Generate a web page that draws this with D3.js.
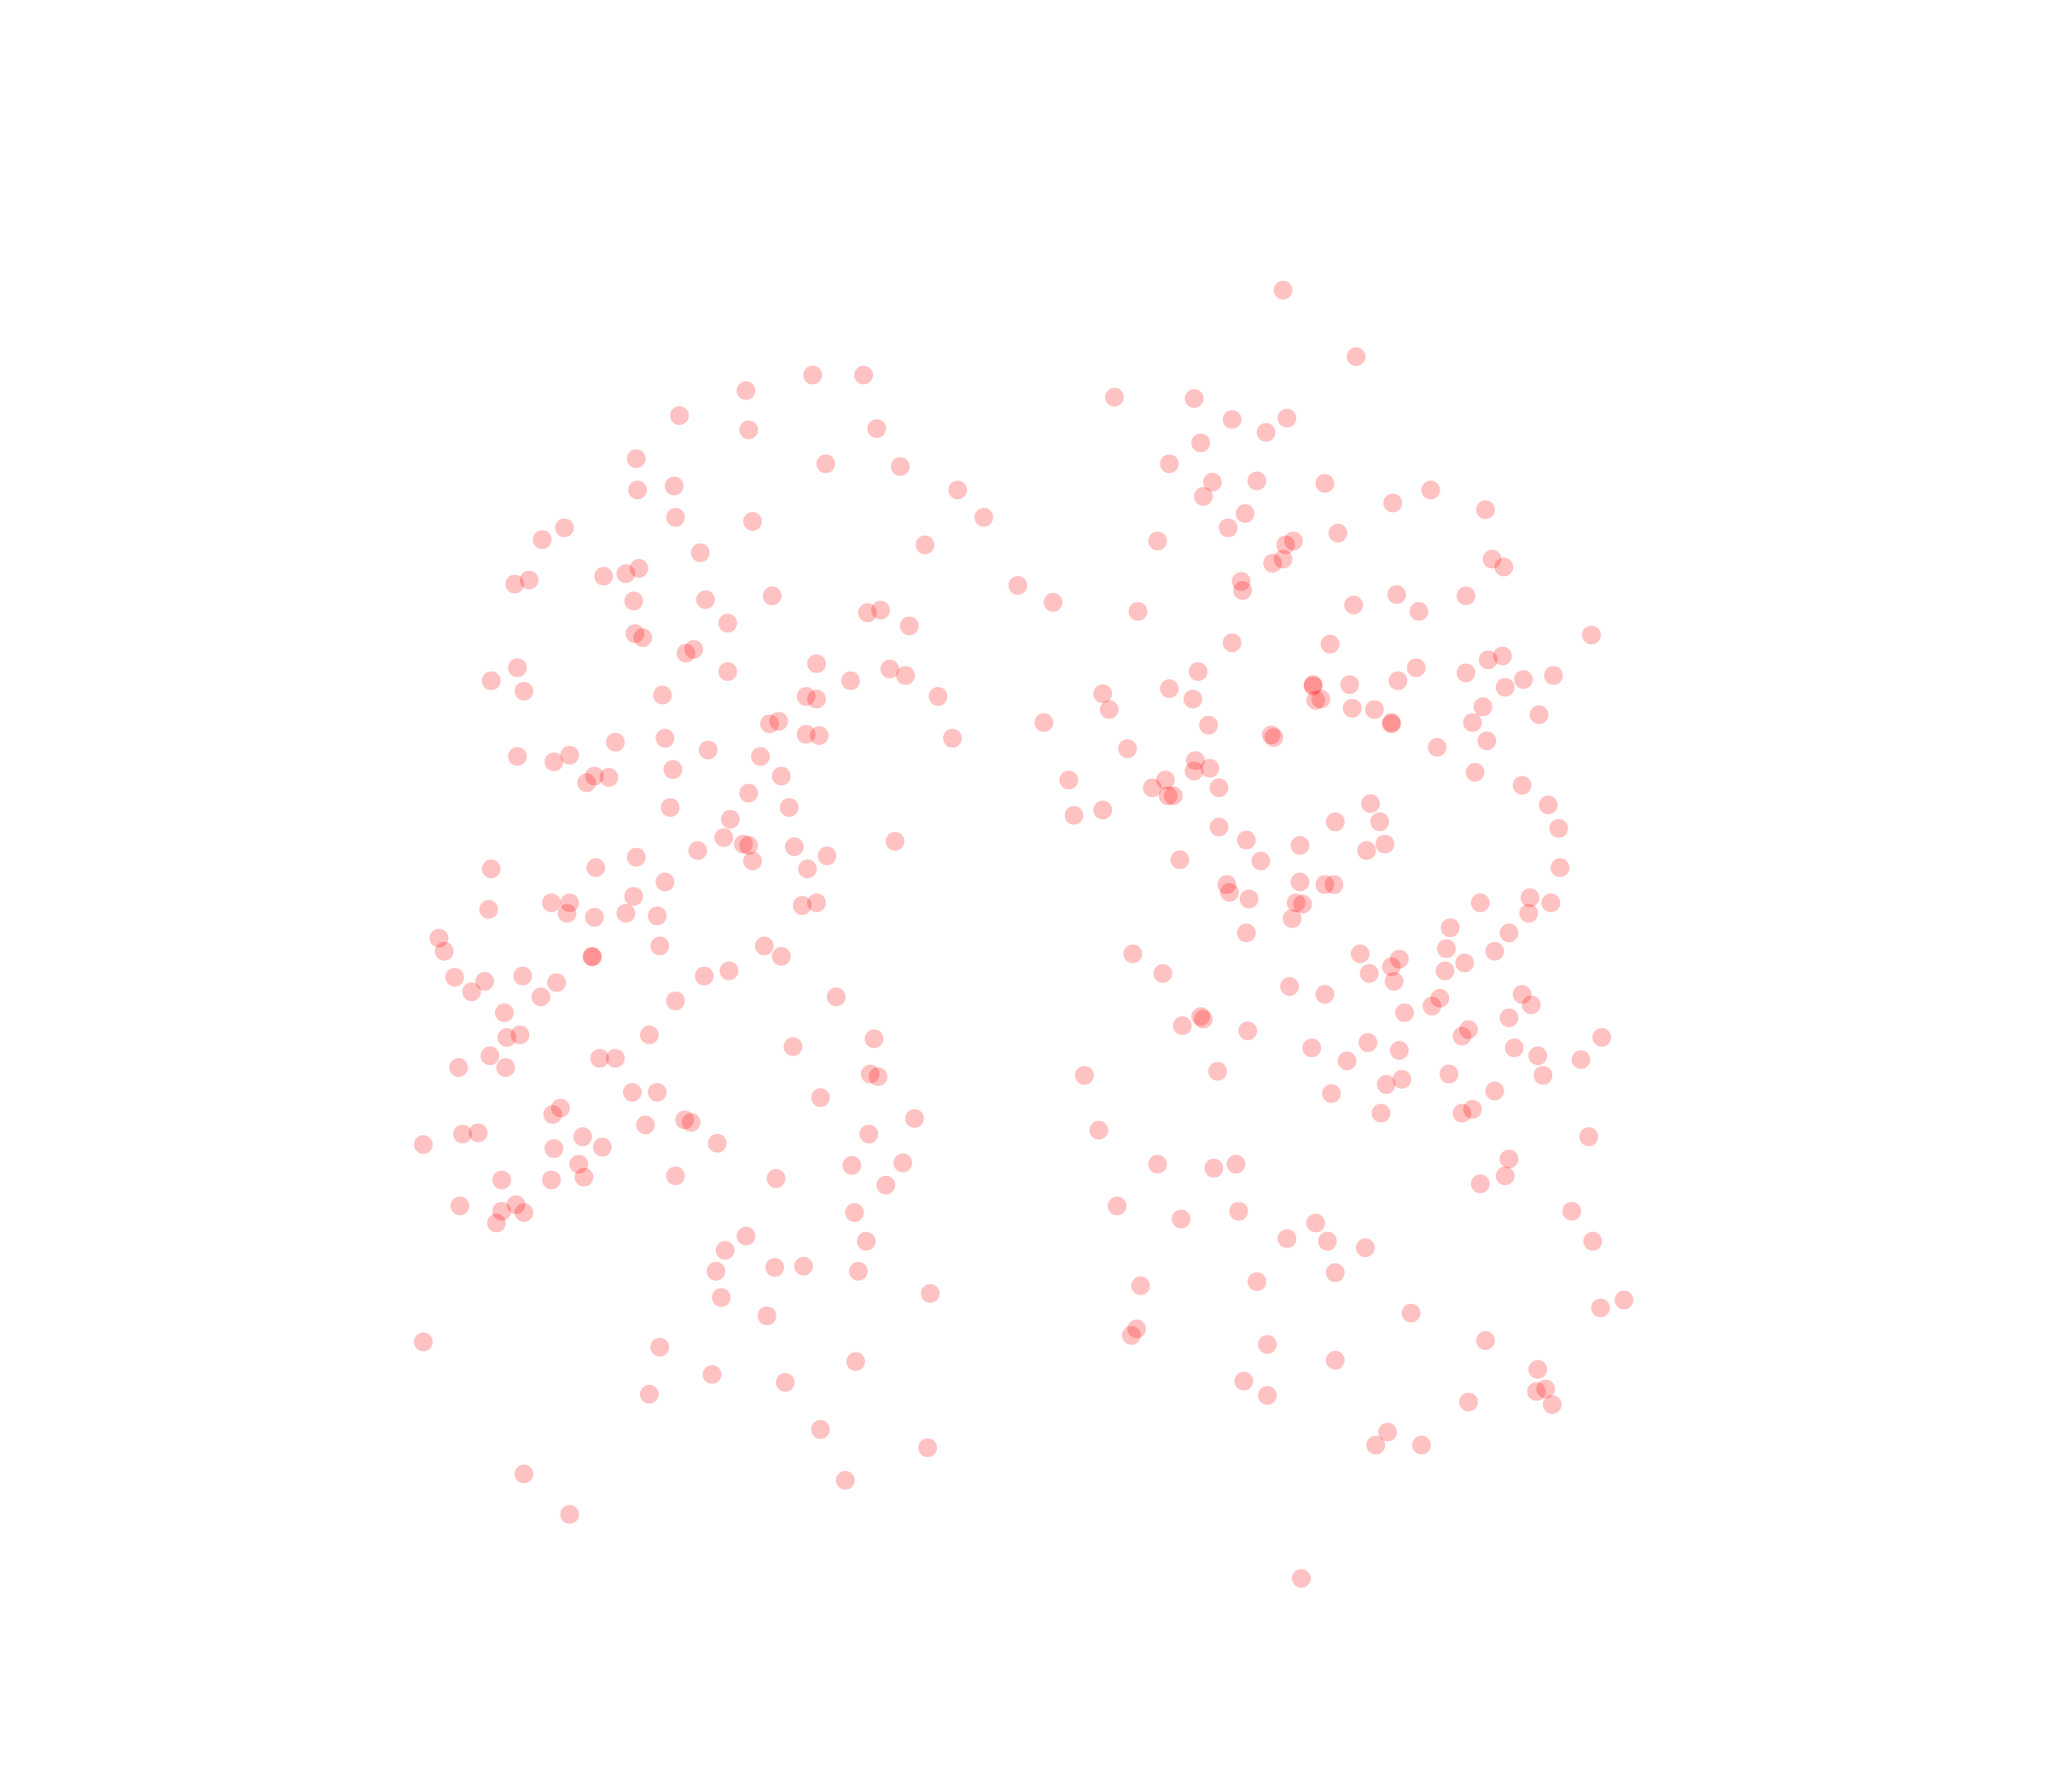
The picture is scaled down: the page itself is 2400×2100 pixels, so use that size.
<!DOCTYPE html>
<html>
<head>
<meta charset="utf-8">
<script src="https://cdn.jsdelivr.net/npm/d3@7"></script>
<style>html,body{margin:0;padding:0;background:#fff}svg{display:block}</style>
</head>
<body>
<div id="chart"></div>
<script>
const xValues = [982,1038,853,914,943,969,985,919,895,928,962,921,1014,1066,1095,1137,953,940,886,984,990,1024,1142,1151,982,974,950,951,1036,1069,1086,1122,871,943,1018,1218,1139,1150,1122,1084,1070,1033,1005,1005,1007,1011,1035,1052,1065,1065,1166,1189,1152,1135,1127,1178,1138,1100,1129,1165,1185,1193,1194,917,895,913,925,844,849,799,863,973,975,915,926,914,892,882,933,894,898,818,844,822,933,954,1049,1056,1022,1060,1046,995,965,903,939,941,956,995,1014,1021,992,997,989,954,1133,1171,1187,1170,1155,1110,1107,1144,1121,1106,1041,1071,1065,1048,1067,867,890,987,1014,1165,1172,1102,1096,1075,1155,919,921,905,955,1124,1119,1047,1004,1071,1159,1177,1226,1210,1031,1181,1109,932,830,1073,1061,1019,1144,1127,1119,1057,841,1216,886,929,946,1155,1152,1133,855,904,948,1203,1007,985,1016,1045,1219,1022,962,873,1243,1225,1080,870,866,970,1137,1022,1177,952,970,1176,1183,1188,1124,1062,1053,1088,996,
622,661,571,520,573,671,487,632,689,488,516,733,517,576,753,432,415,708,536,489,479,462,405,394,779,806,485,540,591,664,674,696,557,486,492,525,531,625,557,681,693,651,396,376,401,507,617,625,718,596,589,617,627,509,471,729,542,436,396,424,582,515,455,466,449,598,573,513,604,559,554,534,569,573,608,685,633,576,487,618,456,376,509,485,422,436,434,374,479,503,455,614,625,336,340,505,585,598,453,453.5,348,371,400,426,539,558,361,414,517,640,386,388,398,497,669,607,375,459,471,351,387,666,672,484,503,628,429,423,524,529,494,700,366,354,446,665,324,461,424,549,443,691,652,384,422,447,517,594,678,352,395,384,401,380,654,571,663,555,593,615,548,657,712,552,587,324,505,655,545,601,497,628,710,647,401,436];
const yValues = [222,273,304,305,321,331,320,339,355,369,368,380,370,385,375,390,393,404,414,417,414,408,428,434,428,431,445,452,463,455,468,456,468,492,493,486,505,502,515,511,521,524,524,525,536,535,542,543,553,554,520,517,526,541,553,547,567,572,591,601,616,634,664,514,527,535,555,531,543,553,573,562.5,564.5,582,588,590,597,603,603,609,609,597,620,624,633,643,615,629,629,646,651,647,659,658,677,683,688,675,677,677,691,692,703,714,691,687,691,699,714,710,726,728,737,743,730,734,740,745,751,730,745,755,761,761,769,764,770,775,779,778,780,785,789,788,793,798,802,804,802,808,794,811,812,823,822,820,823,826,830,837,835,849,852,852,865,870,891,894,891,887,900,906,923,933,927,927,936,948,950,955,950,974,981,984,995,1001,1005,1017,1022,1029,1026,1041,1048,1057,1068,1065,1063,1075,1073,1096,1106,1106,1208,
287,287,299,318,329,328,351,355,357,375,372,375,396,399,396,404,413,417,423,435,439,441,444,447,448,461,460,459,456,469,467,479,477,485,488,500,497,508,514,512,517,521,511,521,529,532,533,535,533,552,554,562,563,565,568,565,574,578,579,583,579,589,594,595,599,594,607,618,618,627,641,651,646,647,648,644,655,659,656,665,664,665,675,686,691,691,699,696,699,701,702,693,691,718,728,724,724,732,732,732.5,748,751,747,752,747,743,759,763,766,763,775,794,792,792,795,801,808,810,810,817,817,822,824,836,836,840,848,853,857,859,861,856,867,868,870,868,876,878,879,875,891,890,892,903,903,901,900,902,907,923,922,927,928,936,928,946,950,957,970,969,973,973,990,993,1007,1027,1031,1042,1052,1058,1067,1094,1108,1133,1128,1159];

const width = 2400, height = 2100;
const pointRadius = 11;
const pointColor = "#ff0000";
const pointOpacity = 0.24;

const x = d3.scaleLinear().domain([0, 1567.5]).range([0, width]);
const y = d3.scaleLinear().domain([0, 1371.5]).range([0, height]);

const svg = d3.select("#chart").append("svg")
  .attr("width", width).attr("height", height).attr("viewBox", [0, 0, width, height]);

svg.append("g").selectAll("circle")
  .data(d3.range(xValues.length))
  .join("circle")
  .attr("cx", i => x(xValues[i]))
  .attr("cy", i => y(yValues[i]))
  .attr("r", pointRadius)
  .attr("fill", pointColor)
  .attr("fill-opacity", pointOpacity);
</script>
</body>
</html>
